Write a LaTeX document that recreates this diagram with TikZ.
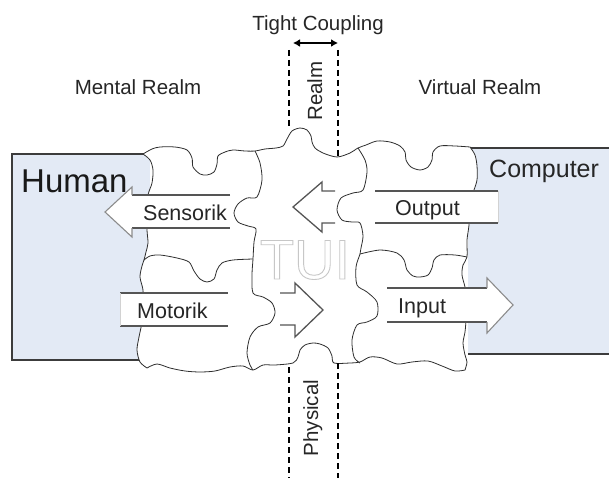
\documentclass[tikz,border=0pt]{standalone}
\usepackage{fontspec}
\setmainfont{Liberation Sans}
\usetikzlibrary{arrows.meta}
\definecolor{boxblue}{HTML}{E3EAF5}
\definecolor{boxline}{HTML}{3C3C3C}
\definecolor{pline}{HTML}{2E2E2E}
\definecolor{aline}{HTML}{555555}
\definecolor{ahead}{HTML}{8C8C8C}
\definecolor{tuigray}{HTML}{C8C8C8}
\tikzset{
  realmbox/.style={fill=boxblue, draw=none},
  realmedge/.style={draw=boxline, line width=1.2pt},
  pieceedge/.style={fill=white, draw=pline, line width=0.8pt},
  seam/.style={draw=pline, line width=0.8pt},
  arrowfill/.style={fill=white, draw=none},
  arrowbody/.style={draw=aline, line width=1.3pt},
  arrowtip/.style={draw=ahead, line width=1.1pt, line join=miter},
  arrowend/.style={draw=gray!35, line width=0.6pt},
  coupling/.style={draw=black, line width=1.3pt, dash pattern=on 6pt off 4pt},
  lbl/.style={font=\fontsize{20.5}{20.5}\selectfont, inner sep=0pt, text=black!85},
  arrowlbl/.style={font=\fontsize{21.5}{21.5}\selectfont, inner sep=0pt, text=black!85, anchor=base west},
}
\begin{document}
\begin{tikzpicture}[x=1pt, y=-1pt]
\useasboundingbox (0,0) rectangle (609,478);

% realm boxes
\fill[realmbox] (12,154) rectangle (150,360);
\draw[realmedge] (150,154) -- (12,154) -- (12,360) -- (150,360);
\fill[realmbox] (468,148) rectangle (615,354);
\draw[realmedge] (468,148) -- (615,148);
\draw[realmedge] (468,354) -- (615,354);

% puzzle outline (all six pieces)
\filldraw[pieceedge]
  plot[smooth] coordinates {(143,154) (152,149) (160,147) (175,147) (187,150) (192,158) (193,167) (200,174) (207,175) (214,172) (217,164) (218,156) (225,152) (233,150) (245,151) (255,151) (265,149) (276,148) (283,146) (287,139) (292,131) (300,128) (307,130) (311,136) (312,142) (315,148) (323,153) (337,157) (350,153) (358,148) (366,145) (377,141) (390,142) (400,146) (405,152) (406,160) (411,167) (420,170) (428,167) (432,160) (433,152) (440,146) (455,146) (470,147)}
  -- plot[smooth] coordinates {(470,147) (475,155) (477,166) (477,180) (473,193) (470,205) (469,225) (467,240) (467,257) (463,265) (462,275) (465,287) (467,300) (466,320) (465,332) (463,343) (465,355) (467,362) (465,370)}
  -- plot[smooth] coordinates {(465,370) (455,371) (442,366) (428,361) (412,362) (397,364) (382,358) (370,357) (360,362) (350,363) (334,363) (332,356) (328,348) (320,344) (313,343) (305,345) (300,350) (298,357) (293,363) (275,365) (263,365) (253,370) (243,366) (230,367) (215,371) (200,372) (185,371) (170,368) (157,364) (147,368)}
  -- plot[smooth] coordinates {(147,368) (140,362) (137,350) (139,337) (142,322) (143,305) (143,290) (140,277) (142,266) (144,260) (146,252) (148,243) (147,230) (147,212) (148,195) (152,183) (153,170) (150,160) (143,154)}
  -- cycle;

% seams between pieces
\draw[seam] plot[smooth] coordinates {(255,151) (260,163) (262,180) (257,197) (247,198) (238,204) (234,213) (238,222) (248,226) (256,229) (254,242) (253,259) (252,275) (253,293) (263,297) (272,303) (275,313) (270,323) (258,327) (250,337) (247,353) (250,365) (253,370)};
\draw[seam] plot[smooth] coordinates {(144,260) (150,256) (160,255) (177,258) (189,262) (194,271) (200,279) (207,282) (214,279) (217,270) (222,263) (233,260) (253,259)};
\draw[seam] plot[smooth] coordinates {(358,148) (365,160) (367,172) (363,190) (353,193) (341,198) (337,210) (342,220) (352,222) (360,223) (363,236) (361,248) (360,254) (356,267) (357,285) (367,292) (377,302) (377,316) (367,322) (357,325) (352,340) (354,357) (360,363)};
\draw[seam] plot[smooth] coordinates {(360,254) (380,250) (397,253) (404,260) (407,270) (413,276) (420,277) (428,275) (432,268) (434,260) (440,255) (455,255) (467,257)};

% Sensorik arrow
\fill[arrowfill] (230,195) -- (132,195) -- (132,187) -- (105,212) -- (132,237) -- (132,228) -- (230,228) -- cycle;
\draw[arrowbody] (230,195) -- (132,195);
\draw[arrowbody] (132,228) -- (230,228);
\draw[arrowtip] (132,195) -- (132,187) -- (105,212) -- (132,237) -- (132,228);

% Output arrow
\fill[arrowfill] (375,191) rectangle (498,223);
\draw[arrowbody] (375,191) -- (498,191);
\draw[arrowbody] (375,223) -- (498,223);
\draw[arrowend] (498,191) -- (498,223);

% middle left arrow
\fill[arrowfill] (335,191) -- (322,191) -- (322,182) -- (293,207) -- (322,232) -- (322,223) -- (335,223) -- cycle;
\draw[arrowbody] (335,191) -- (322,191) -- (322,182) -- (293,207) -- (322,232) -- (322,223) -- (335,223);

% Motorik arrow
\fill[arrowfill] (120,293) rectangle (228,326);
\draw[arrowbody] (120,293) -- (228,293);
\draw[arrowbody] (120,326) -- (228,326);
\draw[arrowend] (120,293) -- (120,326);

% middle right arrow
\fill[arrowfill] (280,293) -- (295,293) -- (295,283) -- (323,310) -- (295,337) -- (295,325) -- (280,325) -- cycle;
\draw[arrowbody] (280,293) -- (295,293) -- (295,283) -- (323,310) -- (295,337) -- (295,325) -- (280,325);

% Input arrow
\fill[arrowfill] (387,288) -- (487,288) -- (487,278) -- (513,305) -- (487,333) -- (487,322) -- (387,322) -- cycle;
\draw[arrowbody] (387,288) -- (487,288);
\draw[arrowbody] (387,322) -- (487,322);
\draw[arrowtip] (487,288) -- (487,278) -- (513,305) -- (487,333) -- (487,322);

% tight coupling band
\coordinate (cl1) at (289,50);  \coordinate (cl2) at (289,129);
\coordinate (cr1) at (338,50);  \coordinate (cr2) at (338,156);
\coordinate (bl1) at (289,367); \coordinate (bl2) at (289,478);
\coordinate (br1) at (338,363); \coordinate (br2) at (338,478);
\draw[coupling] (cl1) -- (cl2);
\draw[coupling] (cr1) -- (cr2);
\draw[coupling] (bl1) -- (bl2);
\draw[coupling] (br1) -- (br2);
\coordinate (tca) at (293,43); \coordinate (tcb) at (338,43);
\draw[line width=1.6pt, {Latex[length=7pt,width=8pt]}-{Latex[length=7pt,width=8pt]}] (tca) -- (tcb);

% labels
\node[lbl, anchor=base] (tight) at (318,31) {Tight Coupling};
\node[lbl, anchor=base] (mental) at (138,95) {Mental Realm};
\node[lbl, anchor=base] (virtual) at (480,95) {Virtual Realm};
\node[lbl, anchor=base, rotate=90] (realm) at (322,91) {Realm};
\node[lbl, anchor=base, rotate=90] (physical) at (318,418) {Physical};
\node[inner sep=0pt, anchor=base west, font=\fontsize{33}{33}\selectfont, text=black!90] (human) at (21,193) {Human};
\node[inner sep=0pt, anchor=base west, font=\fontsize{25}{25}\selectfont, text=black!85] (computer) at (489,178) {Computer};
\node[arrowlbl] (sensorik) at (143,220) {Sensorik};
\node[arrowlbl] (output) at (395,215) {Output};
\node[arrowlbl] (motorik) at (137,318) {Motorik};
\node[arrowlbl] (input) at (398,313) {Input};

% TUI outlined text
\node[inner sep=0pt, font=\fontsize{56}{56}\selectfont, text=tuigray] (tui) at (305,260)
  {\special{pdf:literal direct 1 Tr 0.9 w 0.78 G}TUI\special{pdf:literal direct 0 Tr 0 G}};
\end{tikzpicture}
\end{document}
